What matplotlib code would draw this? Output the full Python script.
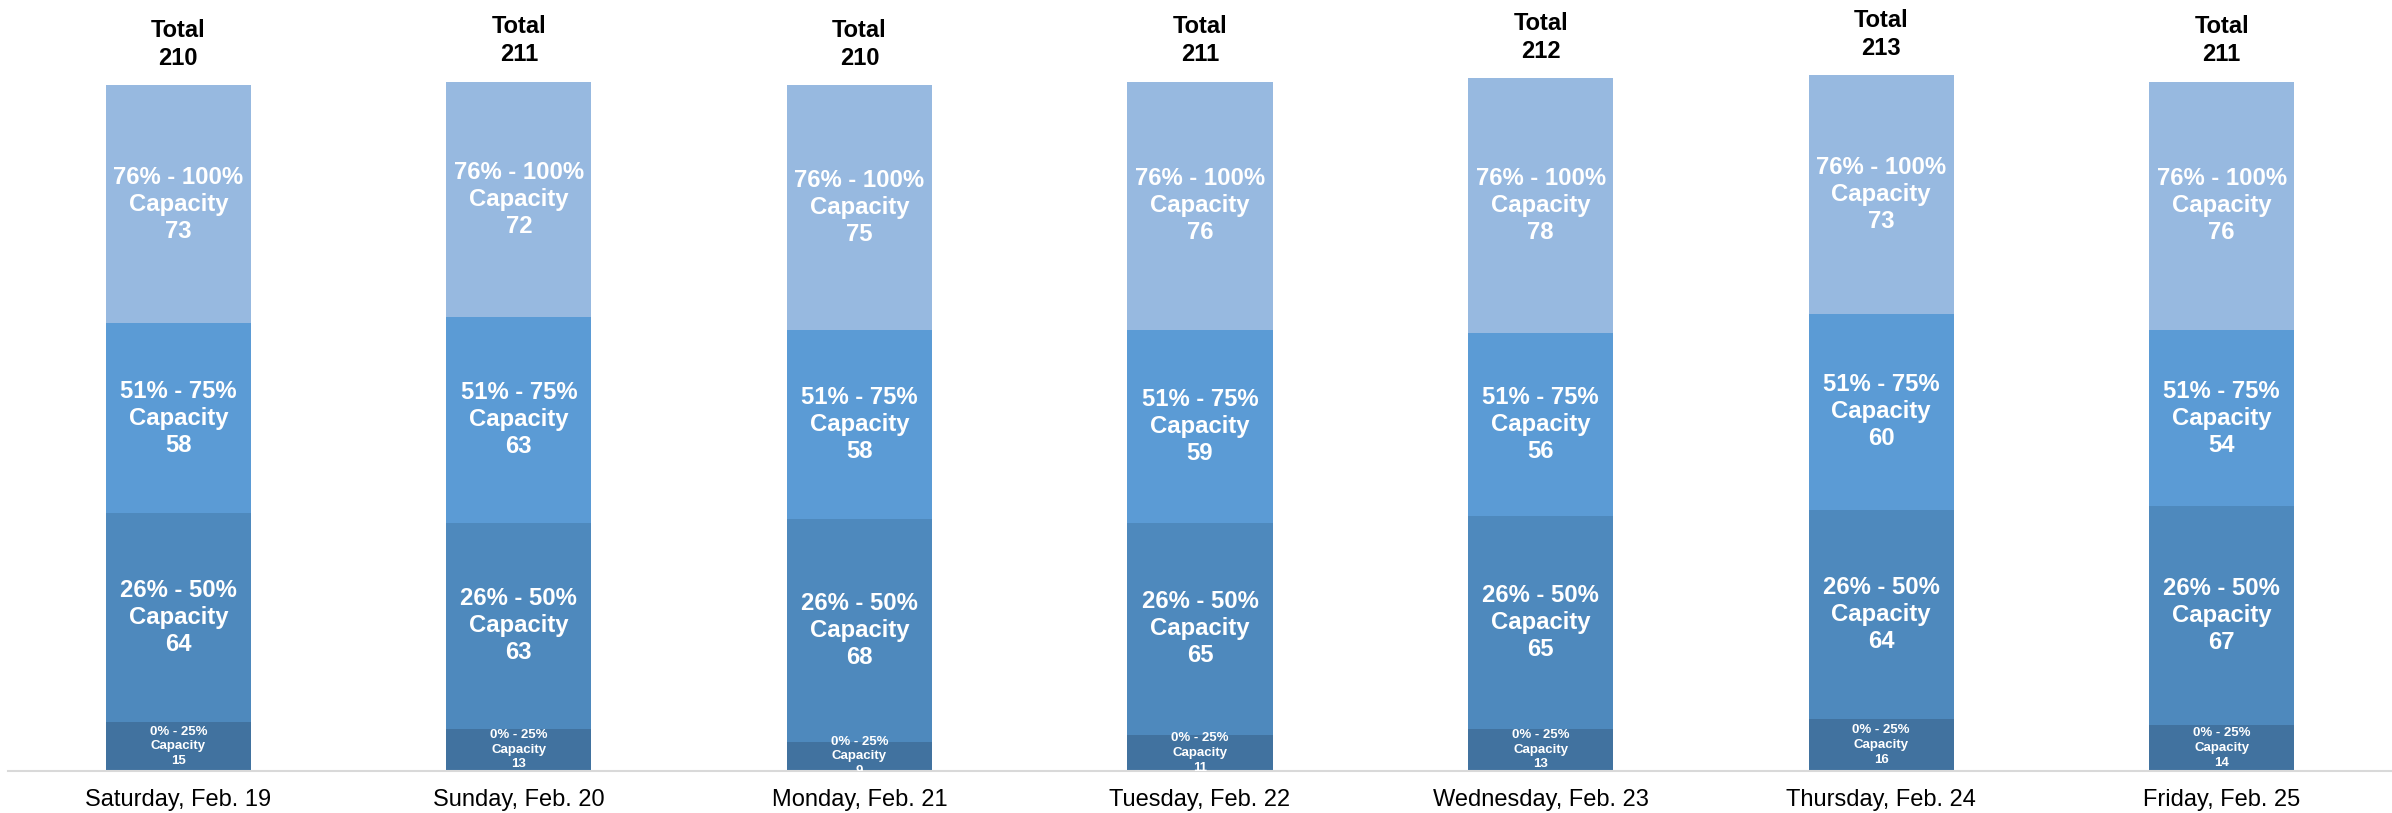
import matplotlib
matplotlib.use("Agg")
import matplotlib.pyplot as plt
import numpy as np

days = ["Saturday, Feb. 19", "Sunday, Feb. 20", "Monday, Feb. 21", "Tuesday, Feb. 22",
        "Wednesday, Feb. 23", "Thursday, Feb. 24", "Friday, Feb. 25"]
seg_names = ["0% - 25%\nCapacity", "26% - 50%\nCapacity", "51% - 75%\nCapacity", "76% - 100%\nCapacity"]
cap_0_25 = [15, 13, 9, 11, 13, 16, 14]
cap_26_50 = [64, 63, 68, 65, 65, 64, 67]
cap_51_75 = [58, 63, 58, 59, 56, 60, 54]
cap_76_100 = [73, 72, 75, 76, 78, 73, 76]
seg_colors = ["#41729F", "#4E89BD", "#5B9BD5", "#97B9E0"]

plt.rcParams['font.family'] = ['Liberation Sans', 'DejaVu Sans']

W, H = 2392, 813
fig = plt.figure(figsize=(W / 100, H / 100), dpi=100)
ymax = 230
px_per_unit = 3.267
base_px = 771
ax_h = ymax * px_per_unit
ax = fig.add_axes([8 / W, (H - base_px) / H, (W - 8) / W, ax_h / H])

x = np.arange(len(days))
series = [cap_0_25, cap_26_50, cap_51_75, cap_76_100]
bottom = np.zeros(len(days))
for k, (vals, col, name) in enumerate(zip(series, seg_colors, seg_names)):
    vals = np.array(vals, dtype=float)
    ax.bar(x, vals, width=0.426, bottom=bottom, color=col, edgecolor='none', zorder=2)
    small = (k == 0)
    for i in range(len(days)):
        ax.text(x[i], bottom[i] + vals[i] / 2, f"{name}\n{int(vals[i])}",
                ha='center', va='center', multialignment='center',
                color='white', fontweight='bold',
                fontsize=9.5 if small else 17.2, clip_on=True, zorder=3,
                linespacing=1.3 if small else 1.22)
    bottom += vals

totals = bottom
for i in range(len(days)):
    ax.annotate(f"Total\n{int(totals[i])}", xy=(x[i], totals[i]), xytext=(0, 11),
                textcoords='offset points', ha='center', va='bottom',
                fontsize=17, fontweight='bold', color='black',
                multialignment='center', annotation_clip=False, linespacing=1.28)

ax.set_xlim(-0.5, 6.5)
ax.set_ylim(0, ymax)
ax.set_xticks(x)
ax.set_xticklabels(days, fontsize=17)
ax.tick_params(axis='x', length=0, pad=13)
ax.set_yticks([])
for s in ['top', 'right', 'left']:
    ax.spines[s].set_visible(False)
ax.spines['bottom'].set_color('#D9D9D9')
ax.spines['bottom'].set_linewidth(1.5)
ax.patch.set_alpha(0)

fig.savefig("out.png", dpi=100)
